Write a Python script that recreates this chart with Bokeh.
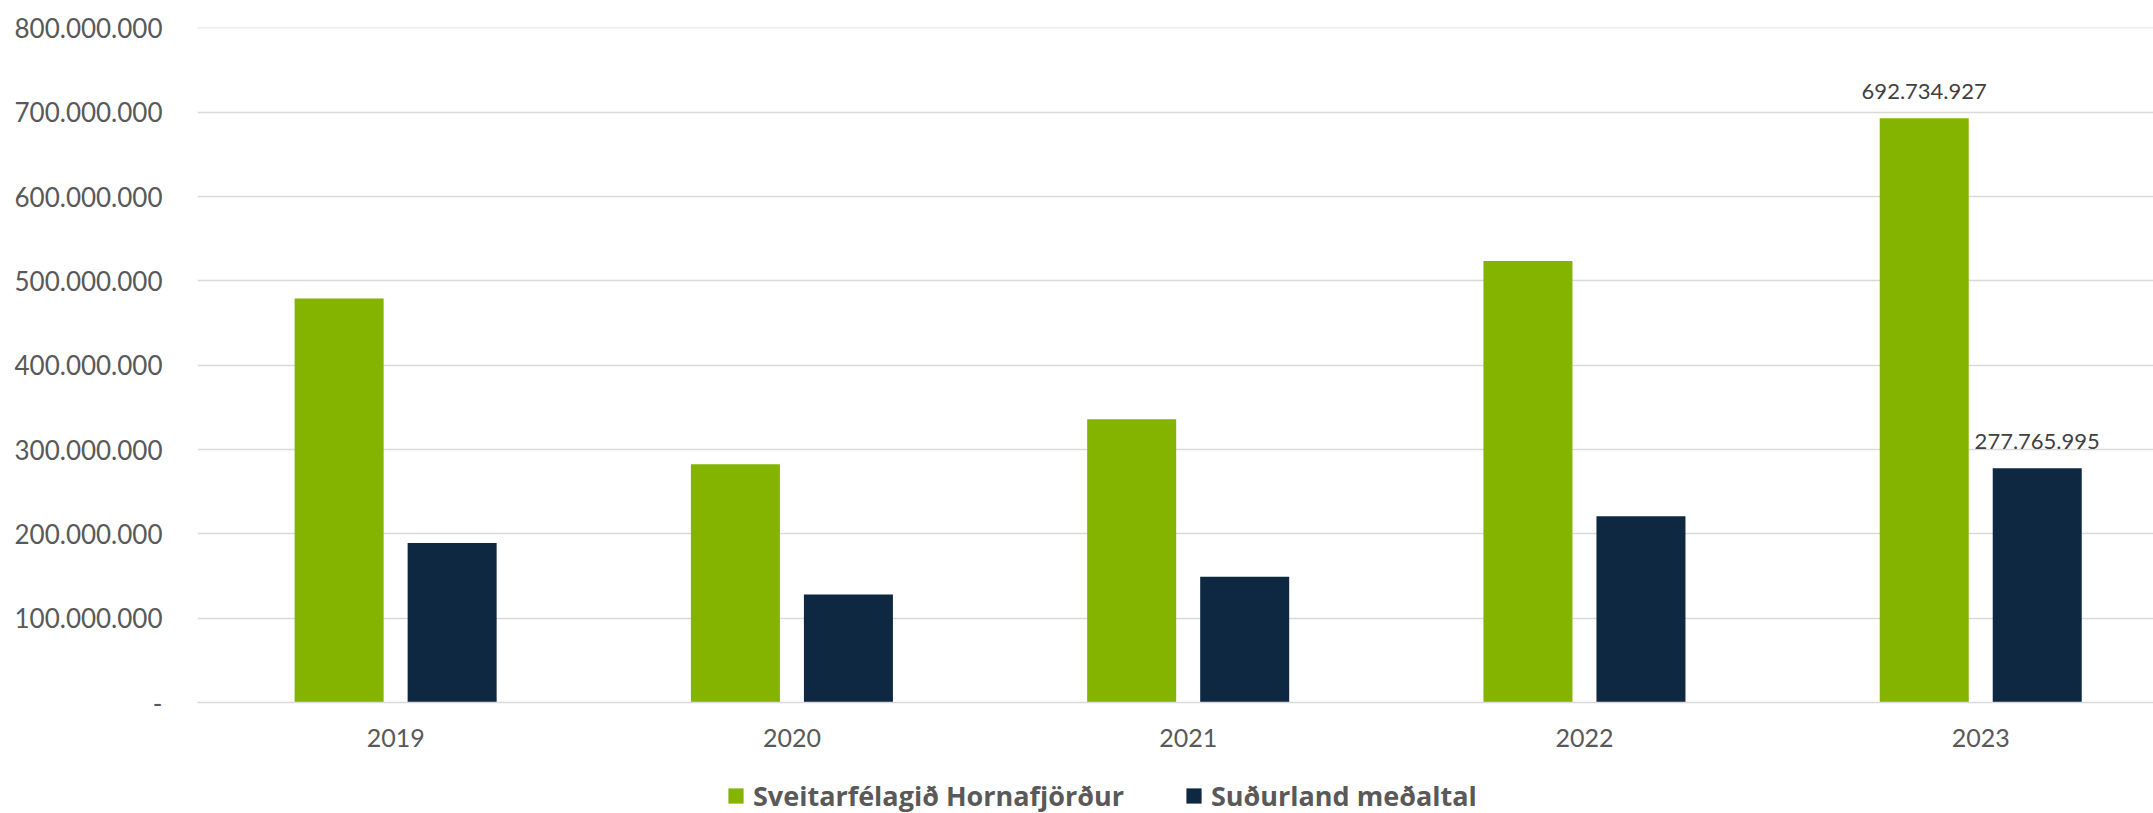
from bokeh.plotting import figure
from bokeh.layouts import column
from bokeh.models import ColumnDataSource, FixedTicker, Legend, LegendItem, Range1d
from bokeh.transform import dodge
from bokeh.core.properties import value
from bokeh.embed import file_html
from bokeh.resources import INLINE

# ---- data ----
years = ["2019", "2020", "2021", "2022", "2023"]
hornafjordur = [479_000_000, 282_600_000, 336_000_000, 523_700_000, 692_734_927]
sudurland = [189_300_000, 128_000_000, 149_000_000, 221_000_000, 277_765_995]
series_names = ["Sveitarfélagið Hornafjörður", "Suðurland meðaltal"]
y_ticks = [0, 100_000_000, 200_000_000, 300_000_000, 400_000_000,
           500_000_000, 600_000_000, 700_000_000, 800_000_000]
labelled_year = "2023"

GREEN = "#84B400"
NAVY = "#0E2841"
GRID = "#D9D9D9"
TXT = "#595959"


def fmt(v):
    return "-" if v == 0 else f"{v:,}".replace(",", ".")


xpos = list(range(len(years)))
src = ColumnDataSource(dict(x=xpos, year=years, h=hornafjordur, s=sudurland))

OFF = 0.1426
BW = 0.2246
li = years.index(labelled_year)
lab_src = ColumnDataSource(dict(
    x=[xpos[li] - OFF, xpos[li] + OFF],
    y=[hornafjordur[li], sudurland[li]],
    t=[fmt(hornafjordur[li]), fmt(sudurland[li])],
))

W = 2153
p = figure(width=W, height=760, output_backend="svg", toolbar_location=None,
           x_range=Range1d(-0.5, 4.436), y_range=Range1d(0, 800_500_000),
           min_border_left=197, min_border_top=27, min_border_right=0,
           min_border_bottom=58)
p.outline_line_color = None
p.background_fill_color = "white"
p.border_fill_color = "white"

r1 = p.vbar(x=dodge("x", -OFF, range=p.x_range), top="h", width=BW,
            source=src, fill_color=GREEN, line_color=None)
r2 = p.vbar(x=dodge("x", OFF, range=p.x_range), top="s", width=BW,
            source=src, fill_color=NAVY, line_color=None)

p.text(x="x", y="y", text="t", source=lab_src,
       text_font=value("Lato"), text_font_size="22px", text_color="#404040",
       text_align="center", text_baseline="alphabetic", y_offset=-27)

# y axis
yax = p.yaxis[0]
yax.ticker = FixedTicker(ticks=y_ticks)
yax.major_label_overrides = {t: fmt(t) for t in y_ticks}
yax.axis_line_color = None
yax.major_tick_line_color = None
yax.minor_tick_line_color = None
yax.major_tick_out = 0
yax.minor_tick_out = 0
yax.major_label_standoff = 35
yax.major_label_text_font = "Lato"
yax.major_label_text_font_size = "26px"
yax.major_label_text_color = TXT

# x axis
xax = p.xaxis[0]
xax.ticker = FixedTicker(ticks=xpos)
xax.major_label_overrides = {i: y for i, y in zip(xpos, years)}
xax.axis_line_color = GRID
xax.axis_line_width = 1.5
xax.major_tick_line_color = None
xax.minor_tick_line_color = None
xax.major_tick_out = 0
xax.minor_tick_out = 0
xax.major_label_standoff = 26
xax.major_label_text_font = "Lato"
xax.major_label_text_font_size = "25px"
xax.major_label_text_color = TXT

p.xgrid.grid_line_color = None
p.ygrid.ticker = FixedTicker(ticks=y_ticks)
p.ygrid.grid_line_color = GRID
p.ygrid.grid_line_width = 1.3

# ---- legend strip (separate canvas under the chart) ----
lf = figure(width=W, height=53, output_backend="svg", toolbar_location=None,
            x_range=Range1d(-0.5, 4.436),
            y_range=Range1d(-2_000_000_000, -1_000_000_000),
            x_axis_location=None, y_axis_location=None,
            min_border=0)
lf.outline_line_color = None
lf.grid.grid_line_color = None
lf.background_fill_color = "white"
lf.border_fill_color = "white"
lg1 = lf.vbar(x=dodge("x", -OFF, range=lf.x_range), top="h", width=BW,
              source=src, fill_color=GREEN, line_color=None, visible=False)
lg2 = lf.vbar(x=dodge("x", OFF, range=lf.x_range), top="s", width=BW,
              source=src, fill_color=NAVY, line_color=None, visible=False)

legend = Legend(
    items=[LegendItem(label=series_names[0], renderers=[lg1]),
           LegendItem(label=series_names[1], renderers=[lg2])],
    location=(529, -1), orientation="horizontal",
    glyph_width=19, glyph_height=19, label_standoff=8, spacing=60,
    padding=0, margin=0, border_line_color=None, background_fill_alpha=0,
    inactive_fill_alpha=0,
    label_text_font="Open Sans", label_text_font_style="bold",
    label_text_font_size="27px", label_text_color=TXT,
)
lf.add_layout(legend, "center")

open("out.html", "w").write(file_html(column(p, lf, spacing=0), INLINE))
